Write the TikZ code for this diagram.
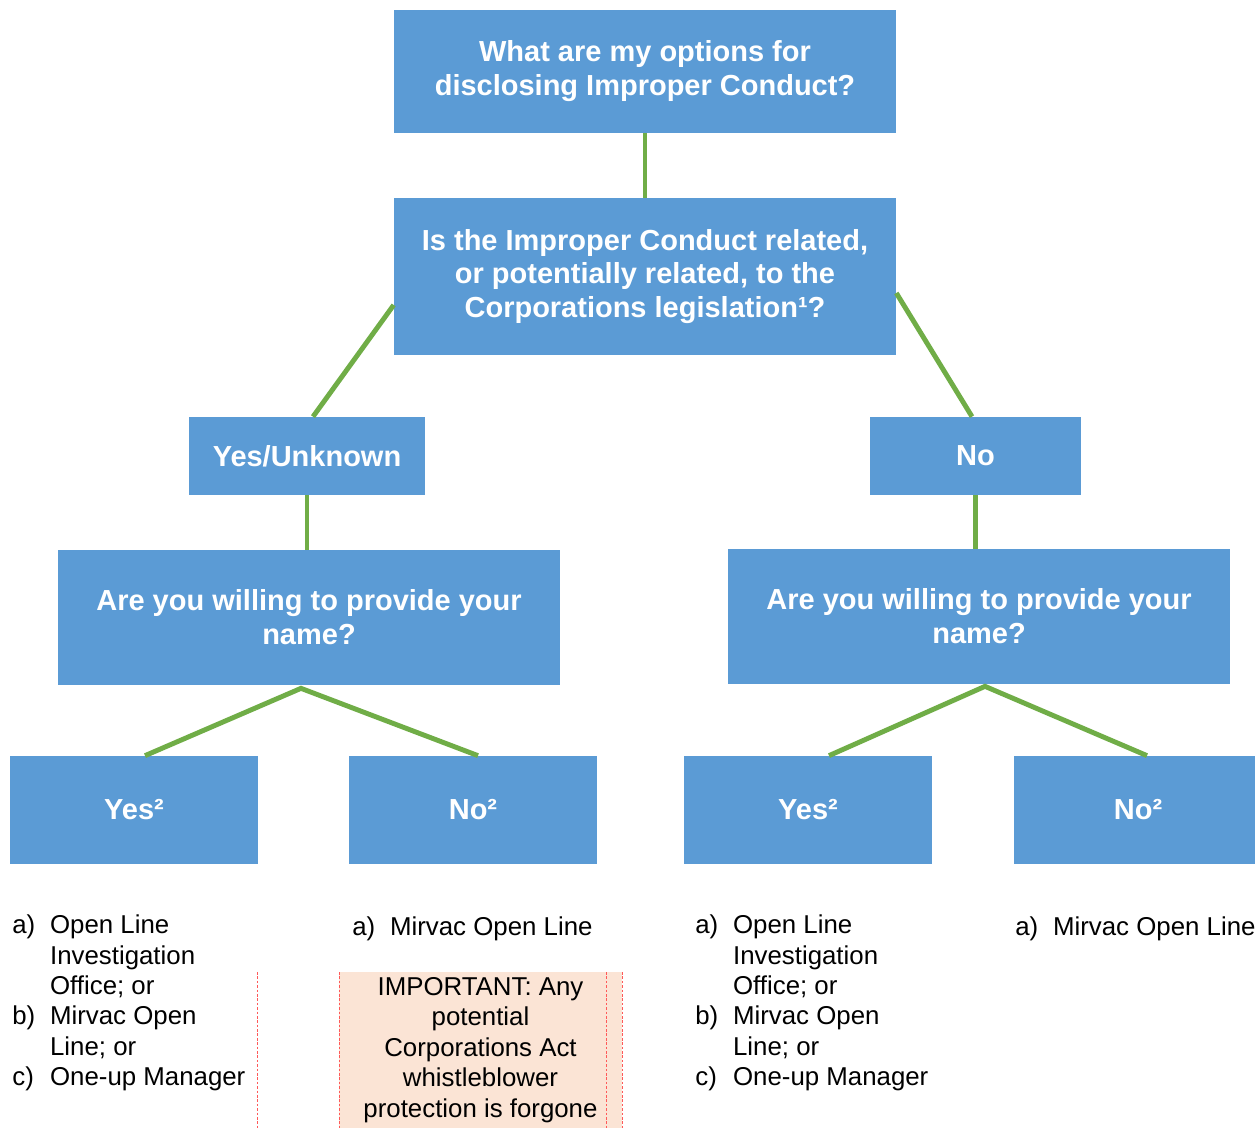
\documentclass[tikz,border=0pt]{standalone}
\usepackage{fontspec}
\setmainfont{Liberation Sans}
\definecolor{boxblue}{HTML}{5B9BD5}
\definecolor{linkgreen}{HTML}{70AD47}
\definecolor{notepeach}{HTML}{FBE4D5}
\tikzset{
  qbox/.style={rectangle, fill=boxblue, text=white, align=center, inner sep=0pt,
    font=\fontsize{16.5}{19.3}\selectfont\bfseries},
  link/.style={draw=linkgreen, line width=2.8pt},
  optlist/.style={anchor=north west, inner sep=0pt, font=\fontsize{14.7}{17.3}\selectfont},
  notebox/.style={rectangle, fill=notepeach, align=center, inner sep=0pt,
    font=\fontsize{14.7}{17.3}\selectfont},
  cellline/.style={draw=red!65, line width=0.3pt, dash pattern=on 1.5pt off 1pt},
}
\begin{document}
\begin{tikzpicture}[x=0.02cm, y=-0.02cm]
    \useasboundingbox (0,0) rectangle (1255,1128);
        % Nodes
        \node (top) [qbox, minimum width=10.04cm, minimum height=2.46cm] at (645,71.5) {What are my options for\\disclosing Improper Conduct?};
        \node (legis) [qbox, minimum width=10.04cm, minimum height=3.14cm] at (645,276.5) {Is the Improper Conduct related,\\or potentially related, to the\\Corporations legislation¹?};
        \node (yesunk) [qbox, minimum width=4.72cm, minimum height=1.56cm] at (307,456) {Yes/Unknown};
        \node (no) [qbox, minimum width=4.22cm, minimum height=1.56cm] at (975.5,456) {No};
        \node (nameL) [qbox, minimum width=10.04cm, minimum height=2.7cm] at (309,617.5) {Are you willing to provide your\\name?};
        \node (nameR) [qbox, minimum width=10.04cm, minimum height=2.7cm] at (979,616.5) {Are you willing to provide your\\name?};
        \node (yesL) [qbox, minimum width=4.96cm, minimum height=2.16cm] at (134,810) {Yes²};
        \node (noL) [qbox, minimum width=4.96cm, minimum height=2.16cm] at (473,810) {No²};
        \node (yesR) [qbox, minimum width=4.96cm, minimum height=2.16cm] at (808,810) {Yes²};
        \node (noR) [qbox, minimum width=4.96cm, minimum height=2.16cm] at (1138,810) {No²};

        % Options
        \node (optYesL) [optlist] at (12,912) {\begin{tabular}{@{}p{21.5pt}@{}l@{}}
            a) & Open Line\\ & Investigation\\ & Office; or\\
            b) & Mirvac Open\\ & Line; or\\
            c) & One-up Manager\end{tabular}};
        \node (optNoL) [optlist] at (352,914) {\begin{tabular}{@{}p{21.5pt}@{}l@{}}
            a) & Mirvac Open Line\end{tabular}};
        \node (note) [notebox, minimum width=5.66cm, minimum height=3.12cm] at (480.5,1050) {IMPORTANT: Any\\potential\\Corporations Act\\whistleblower\\protection is forgone};
        \node (optYesR) [optlist] at (695,912) {\begin{tabular}{@{}p{21.5pt}@{}l@{}}
            a) & Open Line\\ & Investigation\\ & Office; or\\
            b) & Mirvac Open\\ & Line; or\\
            c) & One-up Manager\end{tabular}};
        \node (optNoR) [optlist] at (1015,914) {\begin{tabular}{@{}p{21.5pt}@{}l@{}}
            a) & Mirvac Open Line\end{tabular}};
        \foreach \x in {257,339,606,622}
            \draw[cellline] (\x,972) -- (\x,1128);

        % Edges
        \draw[link] (top) -- (legis);
        \draw[link] ([yshift=-0.57cm]legis.west) -- ([xshift=0.12cm]yesunk.north);
        \draw[link] ([yshift=-0.33cm]legis.east) -- ([xshift=-0.07cm]no.north);
        \draw[link] (yesunk.south) -- (yesunk.south |- nameL.north);
        \draw[link] (no.south) -- (no.south |- nameR.north);
        \coordinate (splitL) at ([xshift=-0.16cm, yshift=-0.06cm]nameL.south);
        \draw[link] ([xshift=0.22cm]yesL.north) -- (splitL) -- ([xshift=0.1cm]noL.north);
        \coordinate (splitR) at ([xshift=0.12cm, yshift=-0.04cm]nameR.south);
        \draw[link] ([xshift=0.42cm]yesR.north) -- (splitR) -- ([xshift=0.18cm]noR.north);

    \end{tikzpicture}
\end{document}
